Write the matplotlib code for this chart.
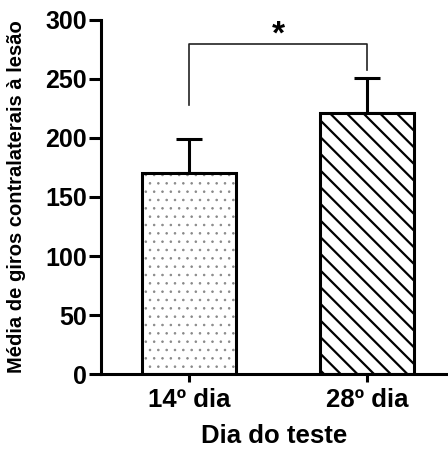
import matplotlib.pyplot as plt

plt.rcParams['font.family'] = ['Liberation Sans', 'DejaVu Sans']
plt.rcParams['font.weight'] = 'bold'

groups = ['14º dia', '28º dia']
means = [170, 221]
sem = [29, 30]

fig = plt.figure(figsize=(4.48, 4.51), dpi=100)
ax = fig.add_axes([0.2254, 0.1707, 0.7746, 0.785])

x = [0, 1]
# dotted bar: grey dots, then black outline on top
plt.rcParams['hatch.linewidth'] = 0.6
ax.bar(x[0], means[0], width=0.528, color='white', edgecolor='#888888',
       hatch='..', linewidth=0, zorder=2)
plt.rcParams['hatch.linewidth'] = 1.6
ax.bar(x[1], means[1], width=0.528, color='white', edgecolor='black',
       hatch='\\\\', linewidth=0, zorder=2)
ax.bar(x, means, width=0.528, color='none', edgecolor='black', linewidth=2.2, zorder=3)

ax.errorbar(x, means, yerr=[[0, 0], sem], fmt='none', ecolor='black',
            elinewidth=2.2, capsize=9.5, capthick=2.2, zorder=1)

# significance bracket
ax.plot([0, 0, 1, 1], [228, 280, 280, 258], color='#222222', lw=1.2)
ax.text(0.5, 274, '*', ha='center', va='bottom', fontsize=24, fontweight='bold')

ax.set_xlim(-0.494, 1.455)
ax.set_ylim(0, 300)
ax.set_yticks([0, 50, 100, 150, 200, 250, 300])
ax.set_xticks(x)
ax.set_xticklabels(groups)
ax.tick_params(axis='y', length=9, width=2.2, labelsize=18, pad=1)
ax.tick_params(axis='x', length=6, width=2.2, labelsize=18.5, pad=4)
for s in ['top', 'right']:
    ax.spines[s].set_visible(False)
for s in ['left', 'bottom']:
    ax.spines[s].set_linewidth(2.2)

ax.set_ylabel('Média de giros contralaterais à lesão', fontsize=14.5, fontweight='bold')
ax.yaxis.set_label_coords(-0.216, 0.5)
ax.set_xlabel('Dia do teste', fontsize=18.5, fontweight='bold', labelpad=9)

fig.savefig('out.png', dpi=100)
